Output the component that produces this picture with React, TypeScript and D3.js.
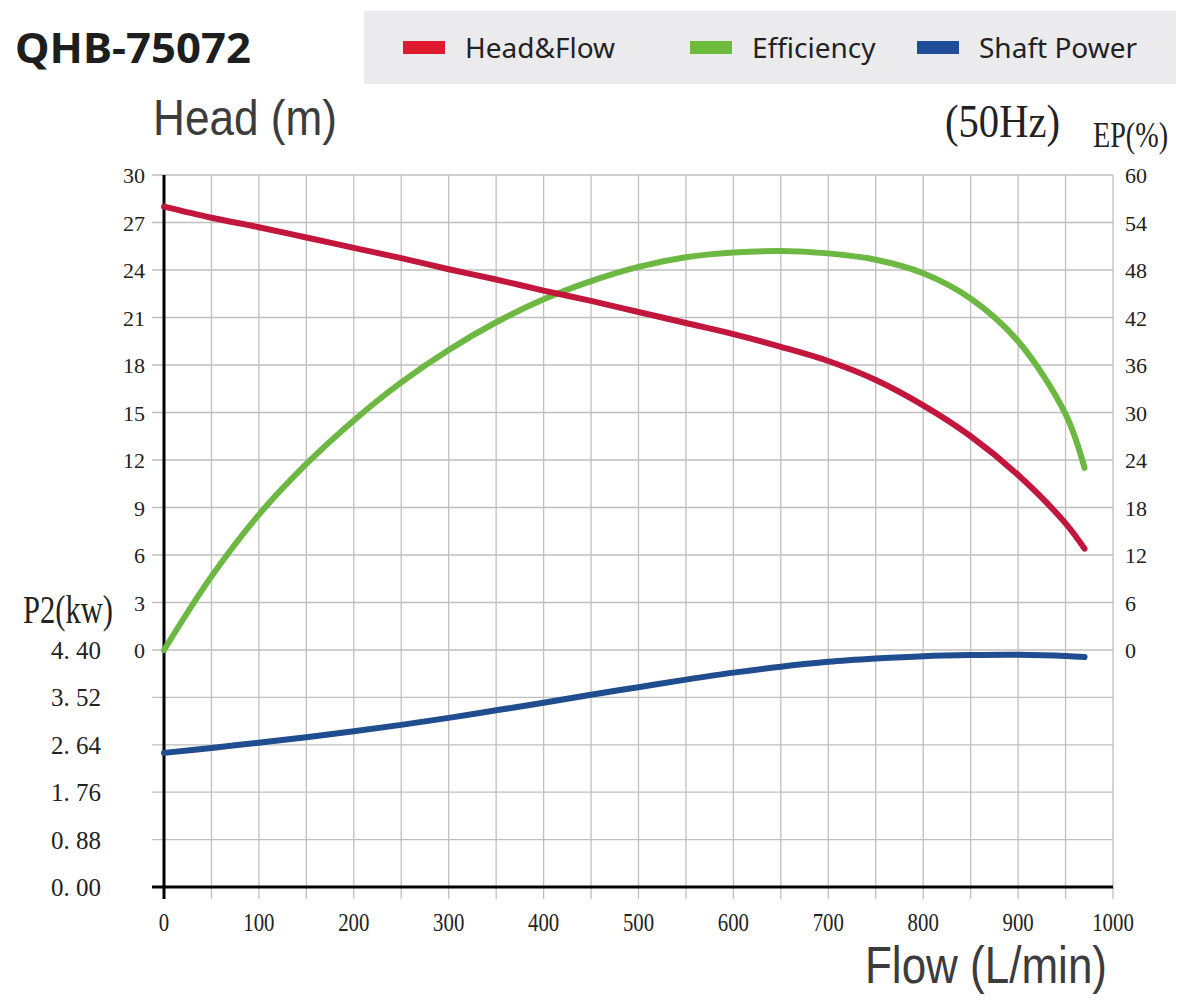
import * as d3 from 'd3';

// flow points (L/min)
const flow = [0, 50, 100, 150, 200, 250, 300, 350, 400, 450, 500, 550, 600, 650, 700, 750, 800, 850, 900, 950, 970];
const head = [28.0, 27.3, 26.7, 26.05, 25.4, 24.75, 24.05, 23.4, 22.7, 22.05, 21.35, 20.65, 19.95, 19.15, 18.25, 17.05, 15.45, 13.5, 11.05, 8.0, 6.4];
const efficiency = [0, 9.3, 17.1, 23.5, 29.0, 33.8, 37.9, 41.4, 44.3, 46.6, 48.4, 49.6, 50.2, 50.4, 50.1, 49.3, 47.6, 44.4, 39.0, 29.8, 23.0];
const power = [2.49, 2.58, 2.68, 2.78, 2.89, 3.01, 3.14, 3.28, 3.42, 3.57, 3.71, 3.85, 3.98, 4.09, 4.18, 4.24, 4.285, 4.305, 4.31, 4.29, 4.27];

const headTicks = [0, 3, 6, 9, 12, 15, 18, 21, 24, 27, 30];
const epTicks = [0, 6, 12, 18, 24, 30, 36, 42, 48, 54, 60];
const powerTicks = [0, 0.88, 1.76, 2.64, 3.52, 4.4];
const powerLabels = ['0. 00', '0. 88', '1. 76', '2. 64', '3. 52', '4. 40'];
const flowGrid = d3.range(0, 1001, 50);
const flowLabels = [0, 100, 200, 300, 400, 500, 600, 700, 800, 900, 1000];

const legend = [
  { name: 'Head&Flow', color: '#e01a2e' },
  { name: 'Efficiency', color: '#6cbb3c' },
  { name: 'Shaft Power', color: '#1f4d9a' },
];

const W = 1186;
const H = 1000;

export default function App() {
  const x = d3.scaleLinear().domain([0, 1000]).range([164, 1113]);
  const yHead = d3.scaleLinear().domain([0, 30]).range([650, 175]);
  const yEp = d3.scaleLinear().domain([0, 60]).range([650, 175]);
  const yPow = d3.scaleLinear().domain([0, 4.4]).range([887, 650]);

  const mk = (ys: number[], scale: d3.ScaleLinear<number, number>) =>
    d3.line<number>()
      .x((_, i) => x(flow[i]))
      .y(d => scale(d))
      .curve(d3.curveCatmullRom.alpha(0.5))(ys) || '';

  const serif = '"Liberation Serif", "DejaVu Serif", serif';
  const sans = '"Liberation Sans", Arial, sans-serif';
  const gridColor = '#bfbfbf';
  const xL = x(0);
  const xR = x(1000);

  return (
    <svg width={W} height={H} style={{ position: 'absolute', left: 0, top: 0, background: '#fff' }}>
      {/* title + legend */}
      <text x={15} y={63} fontFamily='"Noto Sans", sans-serif' fontWeight={700} fontSize={42} fill="#1e1e1e"
        textLength={236} lengthAdjust="spacingAndGlyphs">QHB-75072</text>
      <rect x={364} y={11} width={812} height={73} fill="#ebebed" />
      {legend.map((d, i) => {
        const lx = [403, 690, 917][i];
        return (
          <g key={d.name}>
            <rect x={lx} y={41} width={42} height={13} fill={d.color} />
            <text x={lx + 62} y={58} fontFamily='"Noto Sans", sans-serif' fontSize={28} fill="#222">{d.name}</text>
          </g>
        );
      })}

      {/* axis titles */}
      <text x={153} y={135} fontFamily={sans} fontSize={50} fill="#3c3c3c" textLength={184} lengthAdjust="spacingAndGlyphs">Head (m)</text>
      <text x={945} y={137} fontFamily={serif} fontSize={47} fill="#222" textLength={115} lengthAdjust="spacingAndGlyphs">(50Hz)</text>
      <text x={1093} y={147} fontFamily={serif} fontSize={36} fill="#222" textLength={75} lengthAdjust="spacingAndGlyphs">EP(%)</text>
      <text x={23} y={623} fontFamily={serif} fontSize={39} fill="#222" textLength={90} lengthAdjust="spacingAndGlyphs">P2(kw)</text>
      <text x={865} y={983} fontFamily={sans} fontSize={52} fill="#3c3c3c" textLength={242} lengthAdjust="spacingAndGlyphs">Flow (L/min)</text>

      {/* grid */}
      {flowGrid.map(f => (
        <line key={'v' + f} x1={x(f)} x2={x(f)} y1={175} y2={899} stroke={gridColor} strokeWidth={1.3} />
      ))}
      {headTicks.map(t => (
        <line key={'h' + t} x1={152} x2={xR} y1={yHead(t)} y2={yHead(t)} stroke={gridColor} strokeWidth={1.3} />
      ))}
      {powerTicks.slice(1, 5).map(t => (
        <line key={'p' + t} x1={152} x2={xR} y1={yPow(t)} y2={yPow(t)} stroke={gridColor} strokeWidth={1.3} />
      ))}

      {/* axes */}
      <line x1={xL} x2={xL} y1={175} y2={899} stroke="#000" strokeWidth={3} />
      <line x1={152} x2={xR} y1={yPow(0)} y2={yPow(0)} stroke="#000" strokeWidth={3} />

      {/* tick labels */}
      {headTicks.map(t => (
        <text key={'hl' + t} x={145} y={yHead(t) + 8} textAnchor="end" fontFamily={serif} fontSize={22} fill="#222">{t}</text>
      ))}
      {epTicks.map(t => (
        <text key={'el' + t} x={1125} y={yEp(t) + 8} fontFamily={serif} fontSize={22} fill="#222">{t}</text>
      ))}
      {powerTicks.map((t, i) => (
        <text key={'pl' + t} x={101} y={yPow(t) + 9} textAnchor="end" fontFamily={serif} fontSize={25} fill="#222">{powerLabels[i]}</text>
      ))}
      {flowLabels.map(f => (
        <text key={'fl' + f} transform={`translate(${x(f)},931) scale(0.8,1)`} textAnchor="middle"
          fontFamily={serif} fontSize={26} fill="#222">{f}</text>
      ))}

      {/* curves */}
      <path d={mk(power, yPow)} fill="none" stroke="#1f4d8f" strokeWidth={6} strokeLinecap="round" />
      <path d={mk(efficiency, yEp)} fill="none" stroke="#6db843" strokeWidth={6} strokeLinecap="round" />
      <path d={mk(head, yHead)} fill="none" stroke="#c3163c" strokeWidth={6} strokeLinecap="round" />
    </svg>
  );
}
